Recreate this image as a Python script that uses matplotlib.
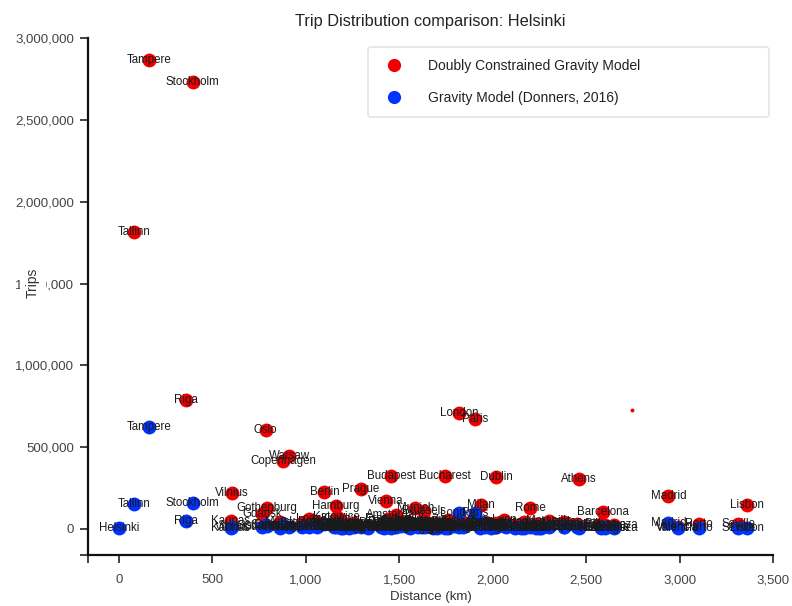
import numpy as np
import matplotlib.pyplot as plt
from matplotlib.ticker import FuncFormatter
from matplotlib.lines import Line2D

plt.rcParams['font.family'] = ['Liberation Sans', 'DejaVu Sans']

# destinations from Helsinki: distance (km), doubly constrained trips, Donners (2016) trips
cities = ['Helsinki', 'Tallinn', 'Tampere', 'Stockholm', 'Riga', 'Kaunas', 'Vilnius',
          'Gdansk', 'Gothenburg', 'Oslo', 'Minsk', 'Copenhagen', 'Warsaw', 'Szczecin',
          'Lodz', 'Poznan', 'Berlin', 'Hamburg', 'Wroclaw', 'Katowice', 'Krakow',
          'Dresden', 'Ostrava', 'Leipzig', 'Bremen', 'Hanover', 'Prague', 'Brno',
          'Nuremberg', 'Dortmund', 'Bratislava', 'Vienna', 'Frankfurt', 'Essen',
          'Budapest', 'Amsterdam', 'Dusseldorf', 'Cologne', 'Rotterdam', 'The Hague',
          'Munich', 'Antwerp', 'Edinburgh', 'Brussels', 'Stuttgart', 'Belgrade',
          'Zagreb', 'Glasgow', 'Bucharest', 'Zurich', 'Ljubljana', 'Manchester',
          'London', 'Venice', 'Birmingham', 'Paris', 'Sofia', 'Milan', 'Geneva',
          'Bologna', 'Turin', 'Dublin', 'Lyon', 'Florence', 'Genoa', 'Thessaloniki',
          'Istanbul', 'Rome', 'Nice', 'Nantes', 'Bari', 'Marseille', 'Naples',
          'Bordeaux', 'Toulouse', 'Athens', 'Bilbao', 'Barcelona', 'Palermo',
          'Zaragoza', 'Madrid', 'Valencia', 'Porto', 'Seville', 'Lisbon']
distance_km = [0, 82, 160, 395, 360, 598, 605,
               765, 790, 785, 860, 880, 910, 980,
               1015, 1060, 1100, 1160, 1150, 1165, 1185,
               1190, 1200, 1225, 1230, 1260, 1295, 1335,
               1400, 1420, 1420, 1430, 1440, 1445,
               1455, 1480, 1480, 1510, 1545, 1555,
               1585, 1600, 1620, 1630, 1640, 1680,
               1700, 1700, 1745, 1760, 1760, 1800,
               1820, 1820, 1840, 1905, 1930, 1935, 1960,
               1990, 2020, 2020, 2060, 2070, 2120, 2150,
               2170, 2200, 2230, 2250, 2260, 2300, 2380,
               2380, 2450, 2460, 2580, 2590, 2600,
               2650, 2940, 2990, 3105, 3315, 3360]
trips_doubly = [np.nan, 1815000, 2866000, 2731000, 788000, 49000, 220000,
                92000, 128000, 605000, 40000, 415000, 446000, 38000,
                58000, 45000, 226000, 141000, 36000, 72000, 60000,
                33000, 22000, 30000, 26000, 34000, 244000, 20000,
                27000, 38000, 24000, 171000, 62000, 35000,
                324000, 88000, 45000, 50000, 42000, 28000,
                130000, 30000, 40000, 112000, 48000, 33000,
                26000, 33000, 324000, 55000, 22000, 45000,
                709000, 32000, 44000, 672000, 28000, 147000, 40000,
                30000, 36000, 318000, 52000, 35000, 26000, 24000,
                40000, 128000, 33000, 22000, 20000, 50000, 42000,
                30000, 32000, 305000, 28000, 104000, 22000,
                24000, 202000, 15000, 33000, 30000, 147000]
trips_donners = [3000, 153000, 623000, 159000, 49000, 3000, 12000,
                 9000, 20000, 22000, 6000, 25000, 15000, 9000,
                 14000, 12000, 30000, 15000, 10000, 20000, 15000,
                 8000, 5000, 9000, 7000, 10000, 10000, 6000,
                 9000, 13000, 5000, 10000, 22000, 11000,
                 8000, 25000, 15000, 18000, 12000, 8000,
                 28000, 9000, 12000, 30000, 14000, 6000,
                 5000, 9000, 5000, 18000, 4000, 16000,
                 98000, 9000, 15000, 98000, 5000, 40000, 14000,
                 8000, 10000, 15000, 16000, 10000, 7000, 4000,
                 6000, 10000, 8000, 6000, 4000, 14000, 9000,
                 9000, 10000, 5000, 8000, 12000, 4000,
                 6000, 37000, 6000, 3000, 4000, 5000]

# unlabelled stray record
stray_distance = [2743]
stray_trips = [727000]

red = '#f00000'
blue = '#0033ff'

fig = plt.figure(figsize=(7.92, 6.06), dpi=100)
ax = fig.add_axes([0.111, 0.0842, 0.865, 0.853])

ax.scatter(distance_km, trips_doubly, s=100, color=red, linewidths=0, zorder=2)
ax.scatter(distance_km, trips_donners, s=100, color=blue, linewidths=0, zorder=3)
ax.scatter(stray_distance, stray_trips, s=8, color=red, linewidths=0, zorder=3)

for name, d, t in zip(cities, distance_km, trips_doubly):
    if not np.isnan(t):
        ax.text(d, t, name, ha='center', va='center', fontsize=8.3, color='#1a1a1a', zorder=5)
for name, d, t in zip(cities, distance_km, trips_donners):
    ax.text(d, t, name, ha='center', va='center', fontsize=8.3, color='#1a1a1a', zorder=5)

ax.set_xlim(-166, 3500)
ax.set_ylim(-158900, 3000000)
ax.set_xticks(np.arange(0, 3501, 500))
ax.set_yticks(np.arange(0, 3000001, 500000))
ax.set_xticks([-166], minor=True)
ax.set_yticks([-158900], minor=True)
comma = FuncFormatter(lambda v, p: f'{int(v):,}')
ax.xaxis.set_major_formatter(comma)
ax.yaxis.set_major_formatter(comma)
ax.tick_params(which='both', direction='out', length=6, width=1.2, color='#222',
               labelsize=9.5, labelcolor='#444')
ax.tick_params(axis='y', pad=4)
ax.tick_params(axis='x', pad=8)

for side in ['top', 'right']:
    ax.spines[side].set_visible(False)
for side in ['left', 'bottom']:
    ax.spines[side].set_linewidth(1.6)
    ax.spines[side].set_color('#111')

ax.set_title('Trip Distribution comparison: Helsinki', fontsize=11.8, color='#222', pad=9)
ax.set_xlabel('Distance (km)', fontsize=9.5, color='#333', labelpad=3)
ax.set_ylabel('Trips', fontsize=10, color='#333',
              bbox=dict(facecolor='white', edgecolor='none', pad=4))
ax.yaxis.set_label_coords(-0.07, 0.526)

handles = [Line2D([], [], marker='o', linestyle='none', markersize=9.5,
                  markerfacecolor=red, markeredgewidth=0),
           Line2D([], [], marker='o', linestyle='none', markersize=9.5,
                  markerfacecolor=blue, markeredgewidth=0)]
leg = ax.legend(handles, ['Doubly Constrained Gravity Model', 'Gravity Model (Donners, 2016)'],
                loc='upper left', bbox_to_anchor=(0.409, 0.847, 0.585, 0.136),
                mode='expand', fontsize=10, frameon=True, borderpad=0.85,
                labelspacing=1.3, handletextpad=1.45, borderaxespad=0,
                handlelength=2.0, fancybox=True)
leg.get_frame().set_edgecolor('#dddddd')
leg.get_frame().set_linewidth(1.2)
for txt in leg.get_texts():
    txt.set_color('#222')

fig.savefig('out.png', dpi=100)
